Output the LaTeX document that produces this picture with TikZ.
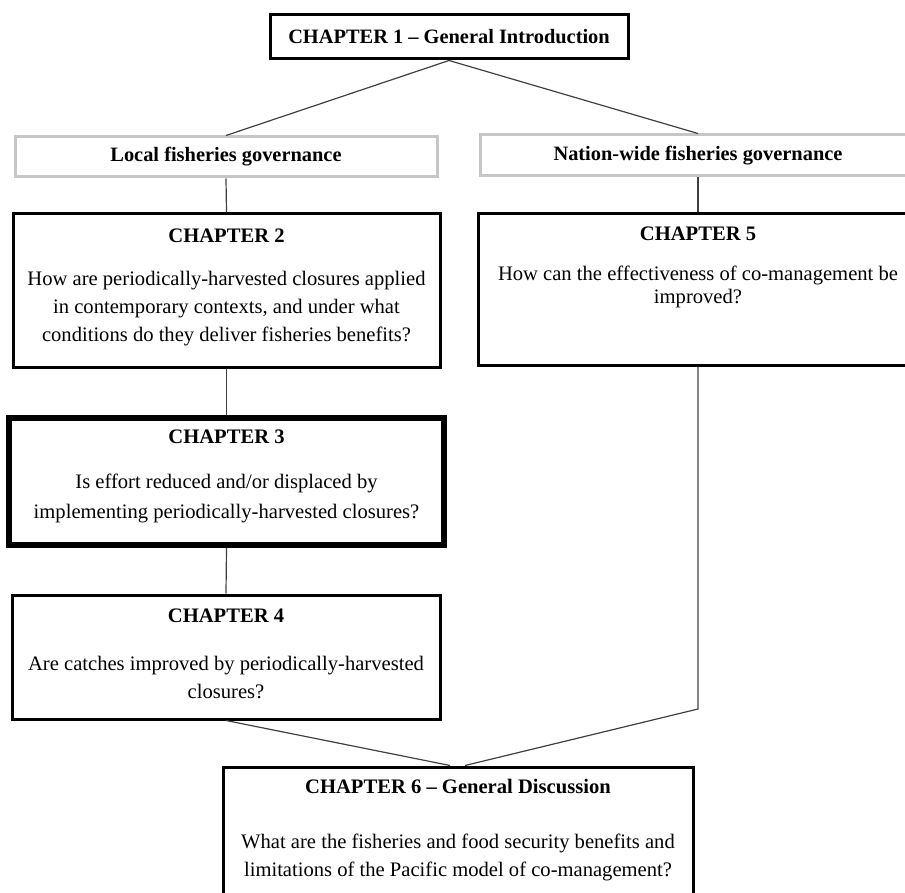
\documentclass[tikz,border=0pt]{standalone}
\usepackage{fontspec}
\setmainfont{Liberation Serif}
\usepackage{tikz}
\usetikzlibrary{calc,fit,positioning}

\begin{document}
\begin{tikzpicture}[x=0.5pt,y=-0.5pt,
  chapbox/.style={draw, line width=1.5pt, inner sep=0pt},
  govbox/.style={draw=gray!45, line width=1.5pt, inner sep=0pt},
  boxtext/.style={font=\bfseries\fontsize{10.2}{12}\selectfont, inner sep=0pt},
  chaptitle/.style={font=\bfseries\fontsize{10.3}{12}\selectfont, inner sep=0pt},
  question/.style={align=center, inner sep=0pt},
  link/.style={draw=black!75, line width=0.6pt}]
\useasboundingbox (0,0) rectangle (905,893);
\clip (0,0) rectangle (905,893);
\node[chapbox, fit={(270,15) (628,59)}, label={[boxtext]center:CHAPTER 1 -- General Introduction}] (ch1) {};
\node[govbox, fit={(15,137) (437,177)}, label={[boxtext]center:Local fisheries governance}] (loc) {};
\node[govbox, fit={(480,135) (916,176)}, label={[boxtext]center:Nation-wide fisheries governance}] (nat) {};
\node[chapbox, fit={(13,214) (440,367)}] (ch2) {};
\node[chaptitle] (ch2t) at ($(ch2.north)+(0,23)$) {CHAPTER 2};
\node[question, font=\fontsize{10.3}{14}\selectfont] (ch2q) at ($(ch2.north)+(0,96)$) {How are periodically-harvested closures applied\\
in contemporary contexts, and under what\\
conditions do they deliver fisheries benefits?};
\node[chapbox, fit={(478,214) (918,365)}] (ch5) {};
\node[chaptitle] (ch5t) at ($(ch5.north)+(0,21)$) {CHAPTER 5};
\node[question, font=\fontsize{10.3}{11.5}\selectfont] (ch5q) at ($(ch5.north)+(0,74.5)$) {How can the effectiveness of co-management be\\
improved?};
\node[chapbox, line width=3.2pt, fit={(9,418) (444,545)}] (ch3) {};
\node[chaptitle] (ch3t) at ($(ch3.north)+(0,22)$) {CHAPTER 3};
\node[question, font=\fontsize{10.3}{15}\selectfont] (ch3q) at ($(ch3.north)+(0,84)$) {Is effort reduced and/or displaced by\\
implementing periodically-harvested closures?};
\node[chapbox, fit={(12,595) (440,719)}] (ch4) {};
\node[chaptitle] (ch4t) at ($(ch4.north)+(0,22)$) {CHAPTER 4};
\node[question, font=\fontsize{10.3}{14}\selectfont] (ch4q) at ($(ch4.north)+(0,84)$) {Are catches improved by periodically-harvested\\
closures?};
\node[chapbox, fit={(223,767) (693,905)}] (ch6) {};
\node[chaptitle] (ch6t) at ($(ch6.north)+(0,21)$) {CHAPTER 6 -- General Discussion};
\node[question, font=\fontsize{10.3}{14}\selectfont] (ch6q) at ($(ch6.north)+(0,92)$) {What are the fisheries and food security benefits and\\
limitations of the Pacific model of co-management?};
\coordinate (ch5turn) at (698,709);
\draw[link] (ch1.south) -- (loc.north);
\draw[link] (ch1.south) -- (nat.north);
\draw[link] (loc.south) -- (ch2.north);
\draw[link] (nat.south) -- (ch5.north);
\draw[link] (ch2.south) -- (ch3.north);
\draw[link] (ch3.south) -- (ch4.north);
\draw[link] (ch4.south) -- ([xshift=-4pt]ch6.north);
\draw[link] (ch5.south) -- (ch5turn) -- ([xshift=3.5pt]ch6.north);
\end{tikzpicture}
\end{document}
